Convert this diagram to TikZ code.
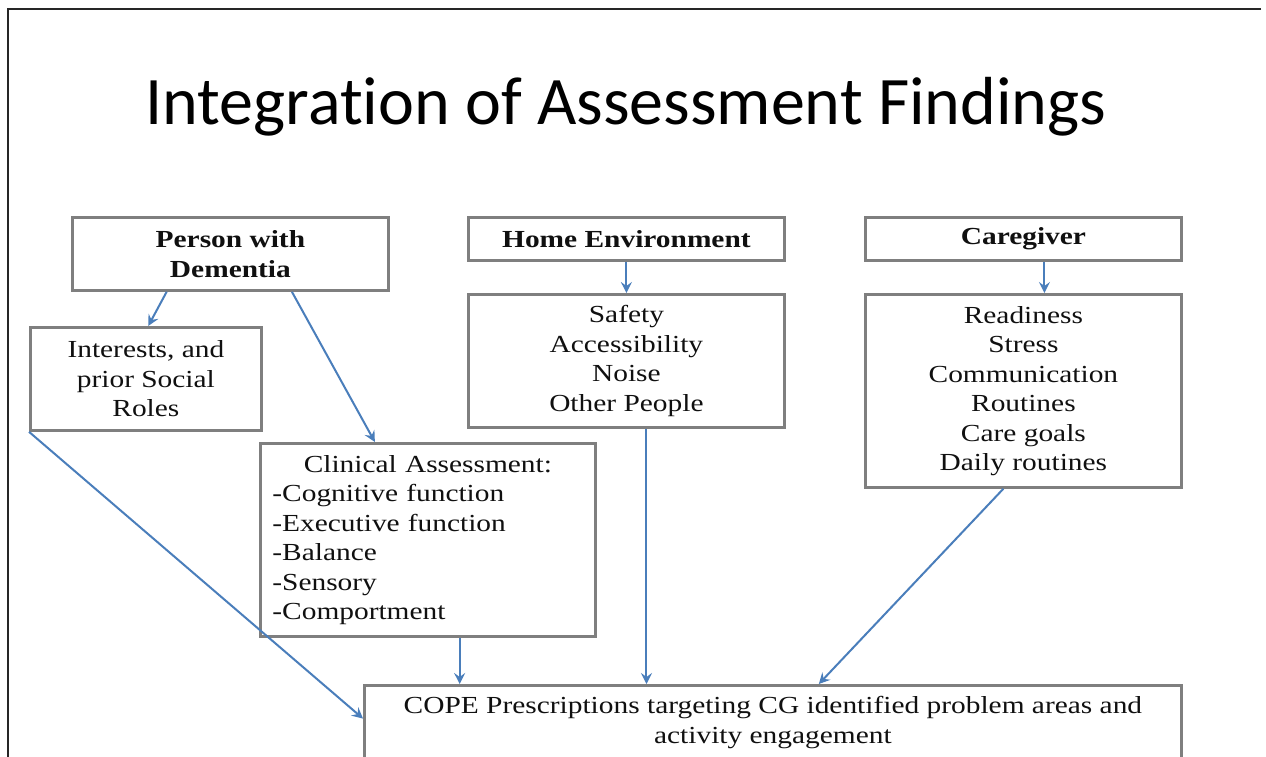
\documentclass[tikz,border=0pt]{standalone}
\usepackage{fontspec}
\setmainfont{Liberation Serif}[FakeStretch=1.2]
\newfontfamily\titlefont{Carlito}[Ligatures=NoCommon]
\usetikzlibrary{arrows.meta,calc}
\definecolor{ink}{HTML}{101010}
\definecolor{boxline}{HTML}{7F7F7F}
\definecolor{arrowblue}{HTML}{4A7EBB}
\tikzset{
  box/.style={draw=boxline, line width=2.8pt, fill=white, text=ink, align=center,
    inner sep=0pt, anchor=north west,
    font=\fontsize{24.5}{29.5}\selectfont},
  headbox/.style={box, font=\fontsize{24.5}{29.5}\selectfont\bfseries},
  flow/.style={draw=arrowblue, line width=2pt,
    -{Stealth[length=11pt,width=11pt,inset=4pt]}},
}
\begin{document}
\begin{tikzpicture}[x=1pt,y=-1pt]
  % canvas and frame
  \fill[white] (0,0) rectangle (1266,756);
  \useasboundingbox (0,0) rectangle (1266,756);
  \draw[line width=2.2pt, black!85] (1261,9) -- (8,9) -- (8,757);

  % title
  \node[anchor=base, text=black, font=\titlefont\fontsize{68}{74}\selectfont] (title) at (626,124)
    {Integration of Assessment Findings};

  % top row: the three sources
  \node[headbox, minimum width=316pt, minimum height=73pt] (pwd) at (71,216)
    {Person with\\Dementia};
  \node[headbox, minimum width=316pt, minimum height=43pt] (home) at (467,216)
    {Home Environment};
  \node[headbox, minimum width=316pt, minimum height=43pt] (cg) at (864,216)
    {Caregiver};

  % second row: findings
  \node[box, minimum width=231pt, minimum height=103pt] (int) at (29,326)
    {Interests, and\\prior Social\\Roles};
  \node[box, minimum width=316pt, minimum height=133pt] (safe) at (467,293)
    {Safety\\Accessibility\\Noise\\Other People};
  \node[box, minimum width=316pt, minimum height=193pt] (cgl) at (864,293)
    {Readiness\\Stress\\Communication\\Routines\\Care goals\\Daily routines};
  \node[box, minimum width=335pt, minimum height=193pt, text width=311pt, align=left] (clin) at (259,442)
    {{\centering Clinical Assessment:\par}
     -Cognitive function\\
     -Executive function\\
     -Balance\\
     -Sensory\\
     -Comportment};

  % outcome
  \node[box, minimum width=817pt, minimum height=74pt] (cope) at (363,684)
    {COPE Prescriptions targeting CG identified problem areas and\\activity engagement};

  % connectors
  \draw[flow] ($(pwd.south west)!0.30!(pwd.south east)$) -- ($(int.north west)!0.51!(int.north east)$);
  \draw[flow] ($(pwd.south west)!0.693!(pwd.south east)$) -- ($(clin.north west)!0.343!(clin.north east)$);
  \draw[flow] (home.south) -- (safe.north);
  \draw[flow] ($(cg.south west)!0.566!(cg.south east)$) coordinate (cgout) -- (cgout |- cgl.north);

  \draw[flow] (int.south west) -- ($(cope.north west)!0.45!(cope.south west)$);
  \coordinate (clout) at ($(clin.south west)!0.594!(clin.south east)$);
  \draw[flow] (clout) -- (clout |- cope.north);
  \coordinate (safeout) at ($(safe.south west)!0.563!(safe.south east)$);
  \draw[flow] (safeout) -- (safeout |- cope.north);
  \draw[flow] ($(cgl.south west)!0.437!(cgl.south east)$) -- ($(cope.north west)!0.556!(cope.north east)$);
\end{tikzpicture}
\end{document}
